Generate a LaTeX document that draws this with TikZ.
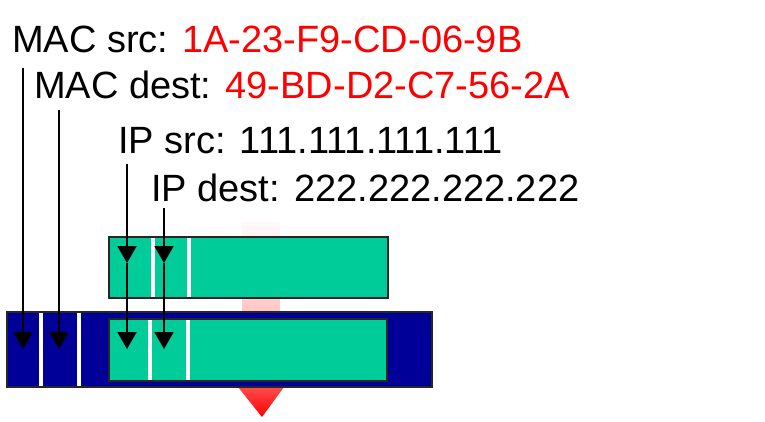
\documentclass[tikz,border=0pt]{standalone}
\usepackage{fontspec}
\setmainfont{Liberation Sans}
\usetikzlibrary{arrows.meta}
\definecolor{framegreen}{HTML}{00CC99}
\definecolor{framenavy}{HTML}{000099}
\definecolor{shaftpink}{HTML}{FFC6C6}
\begin{document}
\begin{tikzpicture}[x=1pt,y=-1pt,
    fieldtext/.style={anchor=base west,inner sep=0pt,font=\fontsize{38}{44}\selectfont},
    frame/.style={draw=black!85,line width=1.3pt},
    divider/.style={white,line width=3.5pt},
    pointer/.style={line width=1.8pt,-{Triangle[length=17pt,width=19pt]}}]
  \useasboundingbox (0,0) rectangle (765,421);
  % encapsulation arrow behind the frames
  \shade[top color=red!2,bottom color=shaftpink] (242,222) rectangle (280,312);
  \shade[top color=red!70,bottom color=red] (238,387) -- (284,387) -- (262,417) -- cycle;
  % IP datagram
  \draw[frame,fill=framegreen] (109,237) rectangle (388,298);
  \draw[divider] (153,238) -- (153,297);
  \draw[divider] (189,238) -- (189,297);
  % link-layer frame with datagram inside
  \draw[frame,fill=framenavy] (7,312) rectangle (432,387);
  \draw[divider] (41,313) -- (41,386);
  \draw[divider] (79,313) -- (79,386);
  \draw[frame,fill=framegreen] (109,319) rectangle (387,381);
  \draw[divider] (150,320) -- (150,380);
  \draw[divider] (188,320) -- (188,380);
  \draw
    (12,52) node[fieldtext] (macsrc) {MAC src: \textcolor{red}{1A-23-F9-CD-06-9B}}
    (34,98) node[fieldtext] (macdest) {MAC dest: \textcolor{red}{49-BD-D2-C7-56-2A}}
    (118,153) node[fieldtext] (ipsrc) {IP src: 111.111.111.111}
    (151,201) node[fieldtext] (ipdest) {IP dest: 222.222.222.222};
  \coordinate (macsrc top) at (23,68);
  \coordinate (macdest top) at (59,110);
  \coordinate (ipsrc top) at (127,164);
  \coordinate (ipdest top) at (164,208);
  \coordinate (macsrc end) at (23,349);
  \coordinate (macdest end) at (59,349);
  \coordinate (ipsrc mid) at (127,263);
  \coordinate (ipdest mid) at (164,263);
  \coordinate (ipsrc end) at (127,349);
  \coordinate (ipdest end) at (164,349);
  \begin{scope}[pointer]
    \draw (macsrc top) to (macsrc end);
    \draw (macdest top) to (macdest end);
    \draw (ipsrc top) to (ipsrc mid);
    \draw (ipsrc mid) to (ipsrc end);
    \draw (ipdest top) to (ipdest mid);
    \draw (ipdest mid) to (ipdest end);
  \end{scope}
\end{tikzpicture}
\end{document}
